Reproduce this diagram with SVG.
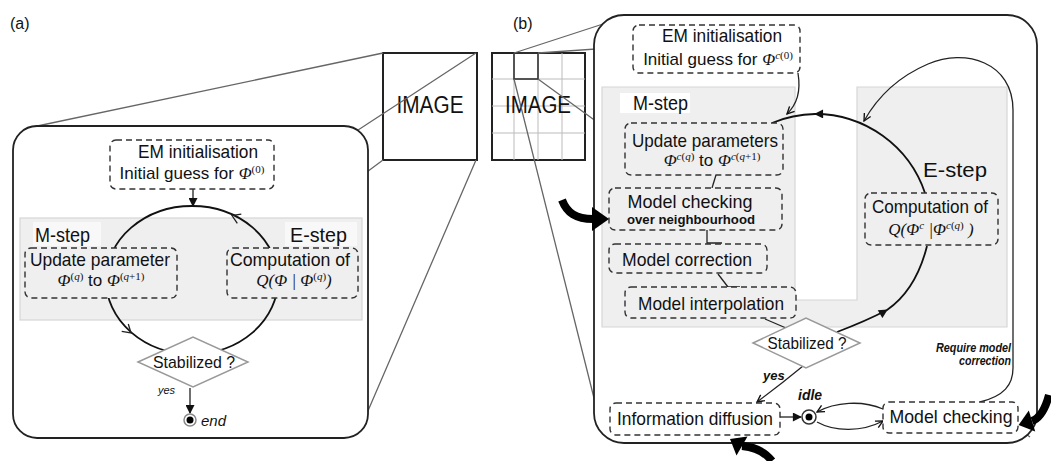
<svg xmlns="http://www.w3.org/2000/svg" width="1051" height="461" viewBox="0 0 1051 461">
<style>
text{font-family:"Liberation Sans",Arial,sans-serif;fill:#111;}
.t17{font-size:17px;}
.t19{font-size:19px;}
.mid{text-anchor:middle;}
.m{font-family:"Liberation Serif","Times New Roman",serif;font-style:italic;}
.sup{font-family:"Liberation Serif","Times New Roman",serif;font-size:11px;}
.dash{fill:#fff;stroke:#333;stroke-width:1.4;stroke-dasharray:6 4;}
.dg{fill:#efefef;stroke:#333;stroke-width:1.4;stroke-dasharray:6 4;}
.band{fill:#efefef;stroke:#d6d6d6;stroke-width:1.2;}
.zl{stroke:#666;stroke-width:1.3;fill:none;}
.ln{stroke:#111;stroke-width:1.8;fill:none;}
.thin{stroke:#222;stroke-width:1.3;fill:none;}
.dia{fill:#fff;stroke:#999;stroke-width:1.5;}
.big{stroke:#000;stroke-width:8;fill:none;}
.panel{fill:#fff;stroke:#222;stroke-width:1.8;}
</style>
<defs>
<marker id="tri" viewBox="0 0 10 10" refX="9" refY="5" markerWidth="10" markerHeight="9" markerUnits="userSpaceOnUse" orient="auto"><path d="M0,0 L10,5 L0,10 z" fill="#111"/></marker>
<marker id="chev" viewBox="0 0 10 10" refX="9" refY="5" markerWidth="9" markerHeight="9" markerUnits="userSpaceOnUse" orient="auto"><path d="M1,1 L9,5 L1,9" fill="none" stroke="#111" stroke-width="1.5"/></marker>
</defs>
<rect width="1051" height="461" fill="#fff"/>

<text x="10" y="29" font-size="16">(a)</text>
<text x="513" y="29" font-size="16">(b)</text>

<g id="image-a">
<rect x="383" y="53" width="94" height="107" fill="#fff" stroke="#222" stroke-width="2"/>
<text x="430" y="113" font-size="23" class="mid" textLength="67" lengthAdjust="spacingAndGlyphs">IMAGE</text>
</g>
<g id="image-b">
<rect x="492" y="53" width="93" height="107" fill="#fff" stroke="#222" stroke-width="2"/>
<path d="M514,53V160M538,53V160M562,53V160M492,79H585M492,106H585M492,133H585" stroke="#bbb" stroke-width="1"/>
<rect x="514" y="53" width="24" height="26" fill="none" stroke="#333" stroke-width="1.6"/>
<text x="538" y="113" font-size="23" class="mid" textLength="66" lengthAdjust="spacingAndGlyphs">IMAGE</text>
</g>

<g id="zoom-lines">
<path class="zl" d="M383,53L35,126.5M476,53L355,132M383,160L20,430M476,160L358,434"/>
<path class="zl" d="M514,53L603,24M538,53L1015,20M514,79L603,434M538,79L1030,437"/>
</g>

<g id="panel-a">
<rect class="panel" x="13" y="126" width="355" height="312" rx="24"/>
<rect class="band" x="20" y="218" width="342" height="102"/>
<rect x="33" y="222" width="68" height="24" fill="#f8f8f8"/>
<rect x="285" y="222" width="72" height="24" fill="#f8f8f8"/>
<text x="35" y="242" font-size="20" textLength="55" lengthAdjust="spacingAndGlyphs">M-step</text>
<text x="290" y="242" font-size="20" textLength="57" lengthAdjust="spacingAndGlyphs">E-step</text>
</g>

<g id="connectors">
<ellipse cx="192" cy="280" rx="86" ry="74" class="ln"/>
<path class="thin" d="M241.3,214.2 L232,215.5 L237.3,223.4"/>
<path class="thin" d="M121.7,331.4 L131,333 L128.3,324"/>
<path class="thin" d="M193,189 L193,206" marker-end="url(#tri)"/>
<path class="thin" d="M190,388 L190,413" marker-end="url(#tri)"/>
</g>

<g id="em-init-a">
<rect class="dash" x="110" y="140" width="164" height="49" rx="6"/>
<text x="198" y="158" class="t19 mid" textLength="120" lengthAdjust="spacingAndGlyphs">EM initialisation</text>
<text x="192" y="179" class="t17 mid">Initial guess for <tspan class="m">Φ</tspan><tspan class="sup" dy="-6">(0)</tspan></text>
</g>
<g id="update-a">
<rect class="dg" x="25" y="248" width="152" height="50" rx="6"/>
<text x="100" y="266" class="t19 mid" textLength="140" lengthAdjust="spacingAndGlyphs">Update parameter</text>
<text x="101" y="286" class="t17 mid"><tspan class="m">Φ</tspan><tspan class="sup" dy="-6">(<tspan font-style="italic">q</tspan>)</tspan><tspan dy="6"> to </tspan><tspan class="m">Φ</tspan><tspan class="sup" dy="-6">(<tspan font-style="italic">q</tspan>+1)</tspan></text>
</g>
<g id="compute-a">
<rect class="dg" x="227" y="248" width="131" height="50" rx="6"/>
<text x="290" y="266" class="t19 mid" textLength="120" lengthAdjust="spacingAndGlyphs">Computation of</text>
<text x="294" y="286" class="t17 mid"><tspan class="m">Q</tspan><tspan class="m" font-style="normal">(</tspan><tspan class="m">Φ</tspan><tspan class="m" font-style="normal"> | </tspan><tspan class="m">Φ</tspan><tspan class="sup" dy="-6">(<tspan font-style="italic">q</tspan>)</tspan><tspan class="m" font-style="normal" dy="6">)</tspan></text>
</g>
<g id="stab-a">
<polygon class="dia" points="138,362 193,337 248,362 193,387"/>
<text x="194" y="368" font-size="17" class="mid" textLength="82" lengthAdjust="spacingAndGlyphs">Stabilized ?</text>
<text x="158" y="394" font-size="11" font-style="italic">yes</text>
</g>
<g id="end-a">
<circle cx="190" cy="420" r="6" fill="#fff" stroke="#888" stroke-width="1.5"/>
<circle cx="190" cy="420" r="3.5" fill="#000"/>
<text x="201" y="426" font-size="15" font-style="italic">end</text>
</g>

<g id="panel-b">
<rect class="panel" x="594" y="15" width="443" height="428" rx="30"/>
<path class="band" d="M602,87 H795 V300 H857 V87 H1007 V327 H602 Z"/>
<rect x="620" y="93" width="70" height="20" fill="#fff"/>
<text x="633" y="110" font-size="20" textLength="55" lengthAdjust="spacingAndGlyphs">M-step</text>
<text x="923" y="177" font-size="20" textLength="64" lengthAdjust="spacingAndGlyphs">E-step</text>
</g>

<g id="connectors-b">
<path class="thin" d="M798,73 C801,92 797,104 787,114" marker-end="url(#chev)"/>
<path class="ln" d="M925,193 A116,116 0 0 0 815,114 A116,116 0 0 0 772,123" marker-mid="url(#tri)"/>
<path class="ln" d="M837,332 Q866,321 887,310 Q916,290 927,246" marker-mid="url(#tri)"/>
<path class="thin" d="M980,402 C1004,396 1013,385 1013,368 L1013,110 C1013,62 965,48 928,64 C900,76 878,96 864,121" marker-end="url(#chev)"/>
<path class="thin" d="M803,366 Q780,385 757,402" marker-end="url(#chev)"/>
<path class="thin" d="M780,417 L801,417" marker-end="url(#tri)"/>
<path class="thin" d="M883,409 C862,400 835,402 817,412" marker-end="url(#chev)"/>
<path class="thin" d="M817,422 C835,432 862,432 883,421" marker-end="url(#chev)"/>
<path class="thin" d="M716,175 L712,188"/>
<path class="thin" d="M707,230 L707,243 L722,243"/>
<path class="thin" d="M718,274 L728,287 L740,287"/>
<path class="thin" d="M765,319 L786,328"/>
</g>

<g id="em-init-b">
<rect class="dash" x="633" y="25" width="167" height="48" rx="6"/>
<text x="722" y="42" class="t19 mid" textLength="120" lengthAdjust="spacingAndGlyphs">EM initialisation</text>
<text x="718" y="65" class="t17 mid">Initial guess for <tspan class="m">Φ</tspan><tspan class="sup" dy="-6"><tspan font-style="italic">c</tspan>(0)</tspan></text>
</g>
<g id="update-b">
<rect class="dg" x="625" y="123" width="158" height="52" rx="6"/>
<text x="705" y="147" class="t19 mid" textLength="146" lengthAdjust="spacingAndGlyphs">Update parameters</text>
<text x="712" y="166" class="t17 mid"><tspan class="m">Φ</tspan><tspan class="sup" dy="-6"><tspan font-style="italic">c</tspan>(<tspan font-style="italic">q</tspan>)</tspan><tspan dy="6"> to </tspan><tspan class="m">Φ</tspan><tspan class="sup" dy="-6"><tspan font-style="italic">c</tspan>(<tspan font-style="italic">q</tspan>+1)</tspan></text>
</g>
<g id="check-nb">
<rect class="dg" x="609" y="188" width="173" height="42" rx="6"/>
<text x="690" y="208" class="t19 mid" textLength="125" lengthAdjust="spacingAndGlyphs">Model  checking</text>
<text x="691" y="224" font-size="13" font-weight="bold" class="mid" textLength="128" lengthAdjust="spacingAndGlyphs">over neighbourhood</text>
</g>
<g id="correction">
<rect class="dg" x="609" y="244" width="158" height="29" rx="6"/>
<text x="687" y="266" class="t19 mid" textLength="130" lengthAdjust="spacingAndGlyphs">Model  correction</text>
</g>
<g id="interpolation">
<rect class="dg" x="625" y="287" width="171" height="31" rx="6"/>
<text x="711" y="310" class="t19 mid" textLength="146" lengthAdjust="spacingAndGlyphs">Model interpolation</text>
</g>
<g id="compute-b">
<rect class="dg" x="865" y="193" width="133" height="52" rx="6"/>
<text x="930" y="213" class="t19 mid" textLength="116" lengthAdjust="spacingAndGlyphs">Computation of</text>
<text x="931" y="235" class="t17 mid"><tspan class="m">Q</tspan><tspan class="m" font-style="normal">(</tspan><tspan class="m">Φ</tspan><tspan class="sup" dy="-6" font-style="italic">c</tspan><tspan class="m" font-style="normal" dy="6"> |</tspan><tspan class="m">Φ</tspan><tspan class="sup" dy="-6"><tspan font-style="italic">c</tspan>(<tspan font-style="italic">q</tspan>)</tspan><tspan class="m" font-style="normal" dy="6"> )</tspan></text>
</g>
<g id="stab-b">
<polygon class="dia" points="753,343 806,318 860,343 806,368"/>
<text x="807" y="349" font-size="17" class="mid" textLength="79" lengthAdjust="spacingAndGlyphs">Stabilized ?</text>
<text x="763" y="380" font-size="13" font-style="italic" font-weight="bold">yes</text>
</g>
<g id="diffusion">
<rect class="dash" x="610" y="403" width="170" height="32" rx="6"/>
<text x="695" y="425" class="t19 mid" textLength="156" lengthAdjust="spacingAndGlyphs">Information diffusion</text>
</g>
<g id="idle">
<circle cx="809" cy="417" r="7" fill="#fff" stroke="#333" stroke-width="1.5"/>
<circle cx="809" cy="417" r="3.5" fill="#000"/>
<text x="798" y="400" font-size="14" font-style="italic" font-weight="bold">idle</text>
</g>
<g id="check">
<rect class="dash" x="883" y="402" width="135" height="31" rx="6"/>
<text x="951" y="423" class="t19 mid" textLength="123" lengthAdjust="spacingAndGlyphs">Model  checking</text>
<text x="1011" y="352" font-size="12" font-style="italic" font-weight="bold" text-anchor="end" textLength="75" lengthAdjust="spacingAndGlyphs">Require model</text>
<text x="1011" y="365" font-size="12" font-style="italic" font-weight="bold" text-anchor="end" textLength="52" lengthAdjust="spacingAndGlyphs">correction</text>
</g>

<g id="big-arrows">
<path class="big" d="M562,200 C567,213 576,219 593,219"/>
<polygon points="592,207 609,219 592,231" fill="#000"/>
<path class="big" d="M772,461 C765,452 755,447 742,446"/>
<polygon points="747.5,436.6 730,439 736.5,455.4" fill="#000"/>
<path class="big" d="M1049,395 C1045,410 1040,418 1032,421"/>
<polygon points="1028.8,410.5 1018.6,425 1035.2,431.5" fill="#000"/>
</g>
</svg>
